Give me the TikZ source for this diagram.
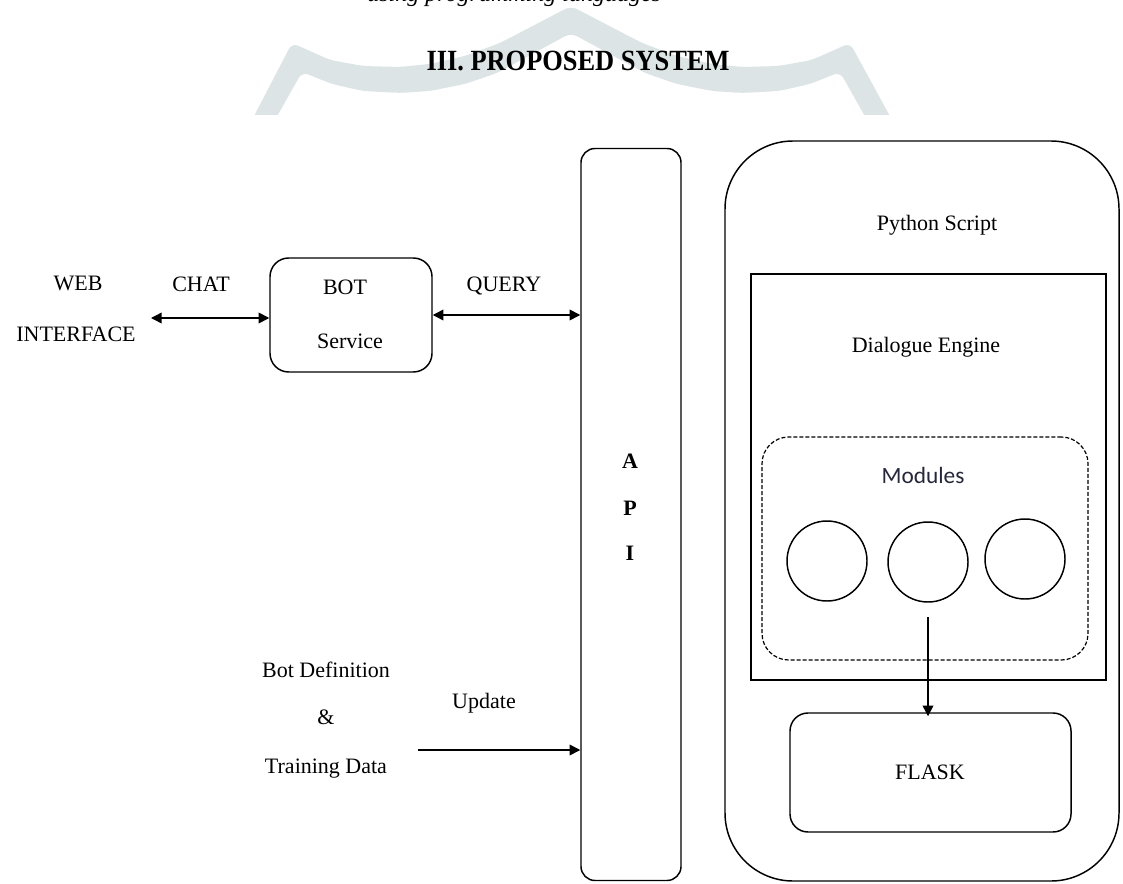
\documentclass[tikz,border=0pt]{standalone}
\usepackage{fontspec}
\setmainfont{Liberation Serif}
\newfontfamily\modfont{Carlito}
\newfontfamily\titlefont{Liberation Serif}[FakeStretch=0.9]
\usetikzlibrary{arrows.meta}
\definecolor{wmcol}{HTML}{DCE4E6}
\definecolor{modcol}{HTML}{25283A}
\begin{document}
\begin{tikzpicture}[x=0.75pt,y=-0.75pt,
  lbl/.style={font=\fontsize{16.5pt}{19pt}\selectfont, inner sep=0pt, anchor=base},
  apilbl/.style={font=\bfseries\fontsize{16.5pt}{19pt}\selectfont, inner sep=0pt, anchor=base},
  box/.style={draw, line width=1.1pt, inner sep=0pt},
  dbox/.style={draw, line width=0.9pt, dash pattern=on 3pt off 1.5pt, inner sep=0pt},
  modcirc/.style={draw, circle, line width=1.1pt, minimum size=60pt, inner sep=0pt},
  arr/.style={line width=1.1pt, -{Triangle[length=8pt,width=8pt]}},
  darr/.style={line width=1.1pt, {Triangle[length=8pt,width=8pt]}-{Triangle[length=8pt,width=8pt]}}
]
\useasboundingbox (0,0) rectangle (1123,884);
\fill[white] (0,0) rectangle (1123,884);

% faint watermark
\begin{scope}
\clip (0,0) rectangle (1123,115);
\fill[wmcol, rounded corners=5pt] (252,120) -- (292,43) -- (330,60) -- (363,66) -- (400,67) -- (430,64) -- (465,56) -- (500,43) -- (571,6) -- (642,43) -- (677,56) -- (712,64) -- (742,67) -- (779,66) -- (812,60) -- (850,43) -- (892,120) -- (867,120) -- (840,72) -- (810,84) -- (779,91) -- (742,93) -- (712,91) -- (677,84) -- (645,73) -- (571,33) -- (497,73) -- (465,84) -- (430,91) -- (400,93) -- (363,91) -- (332,84) -- (302,72) -- (275,120) -- cycle;
\end{scope}

% cut-off running text at the top
\begin{scope}
\clip (0,0) rectangle (1123,884);
\node[anchor=base west, inner sep=0pt, font=\itshape\fontsize{18pt}{20pt}\selectfont] (toptxt) at (367,1.5) {using programming languages};
\end{scope}

% title
\node[anchor=base, inner sep=0pt, font=\titlefont\bfseries\fontsize{22pt}{26pt}\selectfont] (title) at (578,71) {III. PROPOSED SYSTEM};

% boxes
\node[box, rounded corners=10.5pt, minimum width=75pt, minimum height=549pt] (api) at (631,514.5) {};
\node[box, rounded corners=51pt, minimum width=295.5pt, minimum height=555pt] (python) at (922,511) {};
\node[box, minimum width=266.25pt, minimum height=304.5pt] (de) at (928.5,477) {};
\node[dbox, rounded corners=20pt, minimum width=244.5pt, minimum height=167.25pt] (mods) at (925,548.5) {};
\node[modcirc] (c1) at (827,561) {};
\node[modcirc] (c2) at (928,562) {};
\node[modcirc] (c3) at (1025,559) {};
\node[box, rounded corners=13.5pt, minimum width=210.75pt, minimum height=89.25pt] (flask) at (930.5,772.5) {};
\node[box, rounded corners=14pt, minimum width=121.5pt, minimum height=85.5pt] (bot) at (351,315) {};

% labels
\node[lbl] (web) at (78,290) {WEB};
\node[lbl] (iface) at (76,341) {INTERFACE};
\node[lbl] (chat) at (201,291) {CHAT};
\node[lbl] (query) at (504,291) {QUERY};
\node[lbl] (botl) at (345,294) {BOT};
\node[lbl] (service) at (350,348) {Service};
\node[lbl] (pys) at (937,230) {Python Script};
\node[lbl] (del) at (926,352) {Dialogue Engine};
\node[lbl, font=\modfont\fontsize{17.5pt}{20pt}\selectfont, text=modcol] (modl) at (923,483) {Modules};
\node[lbl] (flaskl) at (930,779) {FLASK};
\node[apilbl] (a1) at (630,468) {A};
\node[apilbl] (a2) at (630,515) {P};
\node[apilbl] (a3) at (630,560) {I};
\node[lbl] (botdef) at (326,677) {Bot Definition};
\node[lbl] (amp) at (326,724) {\&};
\node[lbl] (train) at (326,773) {Training Data};
\node[lbl] (upd) at (484,708) {Update};

% connectors
\coordinate (webend) at (151,318);
\coordinate (updstart) at (418,750);
\coordinate (modout) at ([yshift=-11pt]c2.south);
\draw[darr] (webend) -- (webend -| bot.west);
\draw[darr] (bot.east) -- (bot.east -| api.west);
\draw[arr] (updstart) -- (updstart -| api.west);
\draw[arr, shorten >=-3pt] (modout) -- (modout |- flask.north);
\end{tikzpicture}
\end{document}
